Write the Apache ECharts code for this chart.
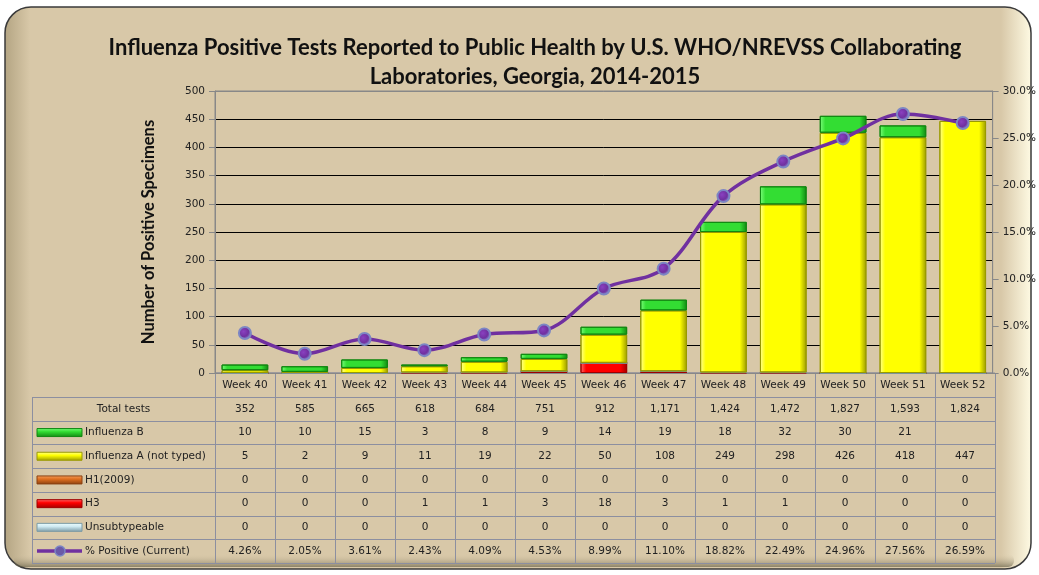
<!DOCTYPE html>
<html>
<head>
<meta charset="utf-8">
<script src="https://cdn.jsdelivr.net/npm/echarts@6/dist/echarts.min.js"></script>
<style>
html, body { margin: 0; padding: 0; background: #fff; }
#main { width: 1039px; height: 575px; }
</style>
</head>
<body>
<div id="main"></div>
<script>
var weeks = ['Week 40', 'Week 41', 'Week 42', 'Week 43', 'Week 44', 'Week 45', 'Week 46',
    'Week 47', 'Week 48', 'Week 49', 'Week 50', 'Week 51', 'Week 52'];
var totalTests = [352, 585, 665, 618, 684, 751, 912, 1171, 1424, 1472, 1827, 1593, 1824];
var fluB = [10, 10, 15, 3, 8, 9, 14, 19, 18, 32, 30, 21, null];
var fluA = [5, 2, 9, 11, 19, 22, 50, 108, 249, 298, 426, 418, 447];
var h1 = [0, 0, 0, 0, 0, 0, 0, 0, 0, 0, 0, 0, 0];
var h3 = [0, 0, 0, 1, 1, 3, 18, 3, 1, 1, 0, 0, 0];
var unsub = [0, 0, 0, 0, 0, 0, 0, 0, 0, 0, 0, 0, 0];
var pctPos = [4.26, 2.05, 3.61, 2.43, 4.09, 4.53, 8.99, 11.10, 18.82, 22.49, 24.96, 27.56, 26.59];

var font = 'DejaVu Sans';
var fs = 10.5;
var myChart = echarts.init(document.getElementById('main'));

// bevel-ish fill for the bars
function bevel(light, mid, dark) {
    return {
        type: 'linear', x: 0, y: 0, x2: 1, y2: 0,
        colorStops: [
            { offset: 0, color: light },
            { offset: 0.12, color: mid },
            { offset: 0.85, color: mid },
            { offset: 1, color: dark }
        ]
    };
}

var rows = [
    { name: 'Total tests', data: totalTests, key: null },
    { name: 'Influenza B', data: fluB, key: ['#7dff7d', '#33dd33', '#118811'] },
    { name: 'Influenza A (not typed)', data: fluA, key: ['#ffff99', '#ffff00', '#9a9a00'] },
    { name: 'H1(2009)', data: h1, key: ['#f5a060', '#e07020', '#8a4010'] },
    { name: 'H3', data: h3, key: ['#ff7070', '#ff0000', '#a00000'] },
    { name: 'Unsubtypeable', data: unsub, key: ['#f0ffff', '#cfeaf2', '#7a9aa5'] },
    { name: '% Positive (Current)', data: pctPos, key: 'line' }
];

function fmt(v, i) {
    if (v === null || v === undefined) return '';
    if (i === 0) return v.toLocaleString('en-US');
    if (i === 6) return v.toFixed(2) + '%';
    return String(v);
}

var gridLineColors = ['#888'];
for (var k = 1; k < 10; k++) gridLineColors.push('#000');
gridLineColors.push('#888');

function barSeries(name, data, c) {
    return {
        name: name, type: 'bar', stack: 'flu', data: data,
        barWidth: '78%',
        itemStyle: { color: bevel(c[0], c[1], c[2]), borderColor: c[2], borderWidth: 1 },
        z: 2
    };
}

option = {
    animation: false,
    title: {
        text: 'Influenza Positive Tests Reported to Public Health by U.S. WHO/NREVSS Collaborating\nLaboratories, Georgia, 2014-2015',
        left: 530,
        textAlign: 'center',
        top: 28,
        textStyle: { fontFamily: 'Lato', fontSize: 22, fontWeight: 'bold', color: '#111', lineHeight: 29 }
    },
    grid: {
        left: 215, right: 44, top: 91, bottom: 202,
        show: true, borderColor: '#888', borderWidth: 1, backgroundColor: 'transparent'
    },
    xAxis: {
        type: 'category',
        data: weeks,
        axisLine: { lineStyle: { color: '#888' } },
        axisTick: { show: false },
        axisLabel: { color: '#222', fontFamily: font, fontSize: fs, margin: 7 }
    },
    yAxis: [{
        type: 'value', min: 0, max: 500, interval: 50,
        name: 'Number of Positive Specimens',
        nameLocation: 'middle', nameGap: 58, nameRotate: 90,
        nameTextStyle: { fontFamily: 'Lato', fontSize: 16.5, fontWeight: 'bold', color: '#111' },
        axisLine: { show: true, lineStyle: { color: '#888' } },
        axisTick: { show: true, length: 6, lineStyle: { color: '#888' } },
        axisLabel: { color: '#222', fontFamily: font, fontSize: fs, margin: 10 },
        splitLine: { lineStyle: { color: gridLineColors, width: 1 } }
    }, {
        type: 'value', min: 0, max: 30, interval: 5, position: 'right',
        axisLine: { show: true, lineStyle: { color: '#888' } },
        axisTick: { show: true, length: 6, lineStyle: { color: '#888' } },
        axisLabel: { color: '#222', fontFamily: font, fontSize: fs, margin: 10,
            formatter: function (v) { return v.toFixed(1) + '%'; } },
        splitLine: { show: false }
    }],
    series: [
        barSeries('H3', h3, rows[4].key),
        barSeries('H1(2009)', h1, rows[3].key),
        barSeries('Unsubtypeable', unsub, rows[5].key),
        barSeries('Influenza A (not typed)', fluA, rows[2].key),
        barSeries('Influenza B', fluB, rows[1].key),
        {
            name: '% Positive (Current)', type: 'line', yAxisIndex: 1, data: pctPos,
            smooth: 0.35, symbol: 'circle', symbolSize: 12,
            lineStyle: { color: '#7030a0', width: 3.5 },
            itemStyle: {
                color: { type: 'radial', x: 0.4, y: 0.4, r: 0.6,
                    colorStops: [{ offset: 0, color: '#8a40c0' }, { offset: 0.6, color: '#7030a0' }, { offset: 1, color: '#8a8ad0' }] },
                borderColor: '#7c86c4', borderWidth: 2
            },
            z: 5
        }
    ]
};

myChart.setOption(option);

// frame + data table underneath the plot
var g = [];
g.push({
    type: 'rect', z: -10, silent: true,
    shape: { x: 5, y: 7, width: 1026, height: 562, r: 26 },
    style: {
        fill: { type: 'linear', x: 0, y: 0, x2: 1, y2: 0, colorStops: [
            { offset: 0, color: '#b3a482' }, { offset: 0.025, color: '#d8c8a8' },
            { offset: 0.97, color: '#d8c8a8' }, { offset: 1, color: '#fffbe4' }] },
        stroke: '#3a3a3a', lineWidth: 1.5
    }
});
g.push({
    type: 'rect', z: -9, silent: true,
    shape: { x: 14, y: 554, width: 1000, height: 13, r: 6 },
    style: {
        fill: { type: 'linear', x: 0, y: 0, x2: 0, y2: 1, colorStops: [
            { offset: 0, color: 'rgba(216,200,168,0)' }, { offset: 1, color: 'rgba(90,85,60,0.6)' }] }
    }
});

var top0 = 373, hdrBot = 397, rowH = 23.7;
var tblLeft = 32, colLeft = 215, colW = 60, ncol = weeks.length;
var tblRight = colLeft + colW * ncol;
var bottom = hdrBot + rowH * rows.length;
var lc = '#8c8fa0';

// horizontal lines
g.push({ type: 'line', silent: true, shape: { x1: colLeft, y1: top0, x2: tblRight, y2: top0 }, style: { stroke: lc, lineWidth: 1 } });
for (var r = 0; r <= rows.length; r++) {
    var yy = Math.round(hdrBot + rowH * r) + 0.5;
    g.push({ type: 'line', silent: true, shape: { x1: tblLeft, y1: yy, x2: tblRight, y2: yy }, style: { stroke: lc, lineWidth: 1 } });
}
// vertical lines
g.push({ type: 'line', silent: true, shape: { x1: tblLeft + 0.5, y1: hdrBot, x2: tblLeft + 0.5, y2: bottom }, style: { stroke: lc, lineWidth: 1 } });
for (var c = 0; c <= ncol; c++) {
    var xx = colLeft + colW * c + 0.5;
    g.push({ type: 'line', silent: true, shape: { x1: xx, y1: top0, x2: xx, y2: bottom }, style: { stroke: lc, lineWidth: 1 } });
}

var tfont = fs + 'px "' + font + '"';
rows.forEach(function (row, ri) {
    var cy = hdrBot + rowH * ri + rowH / 2;
    if (row.key === null) {
        g.push({ type: 'text', silent: true, style: { text: row.name, x: (tblLeft + colLeft) / 2, y: cy,
            align: 'center', verticalAlign: 'middle', fill: '#222', font: tfont } });
    } else {
        if (row.key === 'line') {
            g.push({ type: 'line', silent: true, shape: { x1: 37, y1: cy, x2: 82, y2: cy }, style: { stroke: '#7030a0', lineWidth: 3.5 } });
            g.push({ type: 'circle', silent: true, shape: { cx: 60, cy: cy, r: 5 }, style: { fill: '#6a5aa8', stroke: '#7c86c4', lineWidth: 1.5 } });
        } else {
            g.push({ type: 'rect', silent: true, shape: { x: 37, y: cy - 4, width: 45, height: 8 },
                style: { fill: { type: 'linear', x: 0, y: 0, x2: 0, y2: 1, colorStops: [
                    { offset: 0, color: row.key[0] }, { offset: 0.4, color: row.key[1] }, { offset: 1, color: row.key[2] }] },
                    stroke: row.key[2], lineWidth: 1 } });
        }
        g.push({ type: 'text', silent: true, style: { text: row.name, x: 85, y: cy,
            align: 'left', verticalAlign: 'middle', fill: '#222', font: tfont } });
    }
    row.data.forEach(function (v, ci) {
        g.push({ type: 'text', silent: true, style: { text: fmt(v, ri), x: colLeft + colW * ci + colW / 2, y: cy,
            align: 'center', verticalAlign: 'middle', fill: '#222', font: tfont } });
    });
});

myChart.setOption({ graphic: g });
</script>
</body>
</html>
